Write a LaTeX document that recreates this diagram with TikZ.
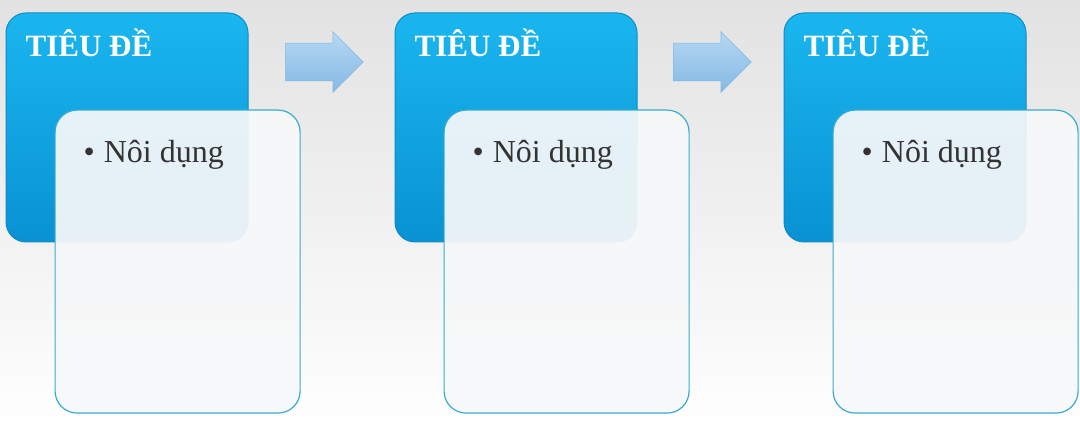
\documentclass[tikz,border=0pt]{standalone}
\usepackage{fontspec}
\setmainfont{Liberation Serif}
\usetikzlibrary{shapes.arrows}
\usepackage{xcolor}
\definecolor{backtop}{HTML}{E2E2E2}
\definecolor{sky}{HTML}{1AB6EF}
\definecolor{skydeep}{HTML}{0992D3}
\definecolor{skyline}{HTML}{0F8AC4}
\definecolor{cardline}{HTML}{3AACCF}
\definecolor{cardfill}{HTML}{F7F8F9}
\definecolor{arrowtop}{HTML}{B6D8F3}
\definecolor{arrowbot}{HTML}{84B9E5}
\definecolor{ink}{HTML}{333333}

\begin{document}
\begin{tikzpicture}[x=1pt,y=1pt,
	header/.style={draw=skyline,line width=1pt,rounded corners=20pt,top color=sky,bottom color=skydeep,minimum width=242pt,minimum height=229pt,inner sep=0pt},
	card/.style={draw=cardline,line width=1.2pt,rounded corners=22pt,fill=cardfill,fill opacity=0.93,minimum width=245pt,minimum height=303pt,inner sep=0pt,anchor=north west},
	flow/.style={single arrow,single arrow head extend=11.5pt,single arrow tip angle=90,single arrow head indent=0pt,minimum height=78pt,text height=18.5pt,text depth=18.5pt,text width=0pt,inner sep=0pt,anchor=tail,top color=arrowtop,bottom color=arrowbot,draw=arrowbot,line width=0.6pt},
	headtext/.style={text=white,font=\fontsize{31}{31}\selectfont\bfseries,inner sep=0pt,anchor=base west},
	bodytext/.style={text=ink,font=\fontsize{32}{32}\selectfont,inner sep=0pt,anchor=base west}]
		%background
		\fill[top color=backtop,bottom color=white] (0,0) rectangle (1080,431);
		%headers
		\node[header] (b1) at (127,303.5) {};
		\node[header] (b2) at (516,303.5) {};
		\node[header] (b3) at (905,303.5) {};
		%titles
		\node[headtext] (t1) at ([shift={(20,-44)}]b1.north west) {TIÊU ĐỀ};
		\node[headtext] (t2) at ([shift={(20,-44)}]b2.north west) {TIÊU ĐỀ};
		\node[headtext] (t3) at ([shift={(20,-44)}]b3.north west) {TIÊU ĐỀ};
		%cards
		\node[card] (c1) at ([shift={(49,-97)}]b1.north west) {};
		\node[card] (c2) at ([shift={(49,-97)}]b2.north west) {};
		\node[card] (c3) at ([shift={(49,-97)}]b3.north west) {};
		%contents
		\node[bodytext] (n1) at ([shift={(29,-53)}]c1.north west) {•\hspace{9pt}Nôi dụng};
		\node[bodytext] (n2) at ([shift={(29,-53)}]c2.north west) {•\hspace{9pt}Nôi dụng};
		\node[bodytext] (n3) at ([shift={(29,-53)}]c3.north west) {•\hspace{9pt}Nôi dụng};
		%arrows
		\node[flow] (a1) at (285,369) {};
		\node[flow] (a2) at (673,369) {};
	\end{tikzpicture}
\end{document}
